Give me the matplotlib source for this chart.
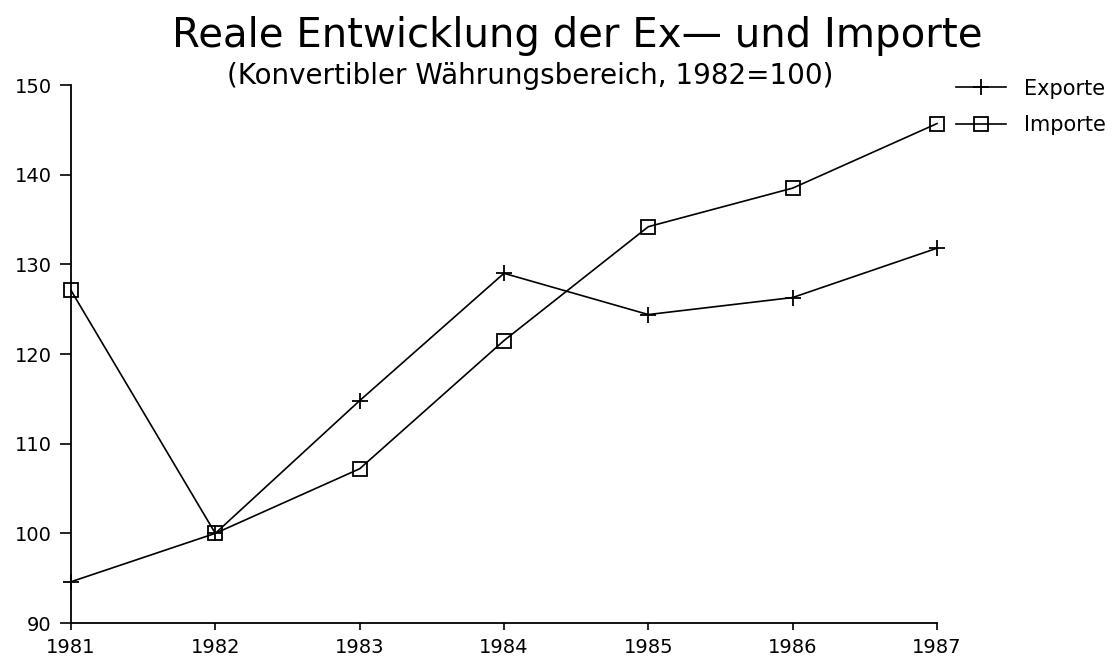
import matplotlib
matplotlib.use("Agg")
import matplotlib.pyplot as plt

years = [1981, 1982, 1983, 1984, 1985, 1986, 1987]
exporte = [94.6, 100.0, 114.8, 129.0, 124.4, 126.3, 131.8]
importe = [127.1, 100.0, 107.2, 121.5, 134.2, 138.5, 145.7]
yticks = [90, 100, 110, 120, 130, 140, 150]

title = "Reale Entwicklung der Ex\u2014 und Importe"
subtitle = "(Konvertibler Währungsbereich, 1982=100)"

fig = plt.figure(figsize=(11.16, 6.59), dpi=100)
ax = fig.add_axes([0.0636, 0.0546, 0.776, 0.8164])

ax.plot(years, exporte, color="black", lw=1.2, marker="+", ms=12, mew=1.3,
        label="Exporte", clip_on=False)
ax.plot(years, importe, color="black", lw=1.2, marker="s", ms=10, mew=1.3,
        mfc="none", label="Importe", clip_on=False)

ax.set_xlim(years[0], years[-1])
ax.set_ylim(yticks[0], yticks[-1])
ax.set_xticks(years)
ax.set_xticklabels([str(y) for y in years])
ax.set_yticks(yticks)
for s in ["top", "right"]:
    ax.spines[s].set_visible(False)
for s in ["left", "bottom"]:
    ax.spines[s].set_linewidth(1.3)
ax.tick_params(axis="y", direction="out", length=8, width=1.2, labelsize=14, pad=6)
ax.tick_params(axis="x", direction="out", length=5, width=1.2, labelsize=14, pad=6)

fig.text(0.517, 0.945, title, ha="center", va="center", fontsize=29)
fig.text(0.475, 0.885, subtitle, ha="center", va="center", fontsize=20)

fig.legend(loc="upper right", bbox_to_anchor=(1.008, 0.909), frameon=False,
           fontsize=15, handlelength=2.4, handletextpad=0.9, labelspacing=0.8)

fig.savefig("out.png", dpi=100, facecolor="white")
